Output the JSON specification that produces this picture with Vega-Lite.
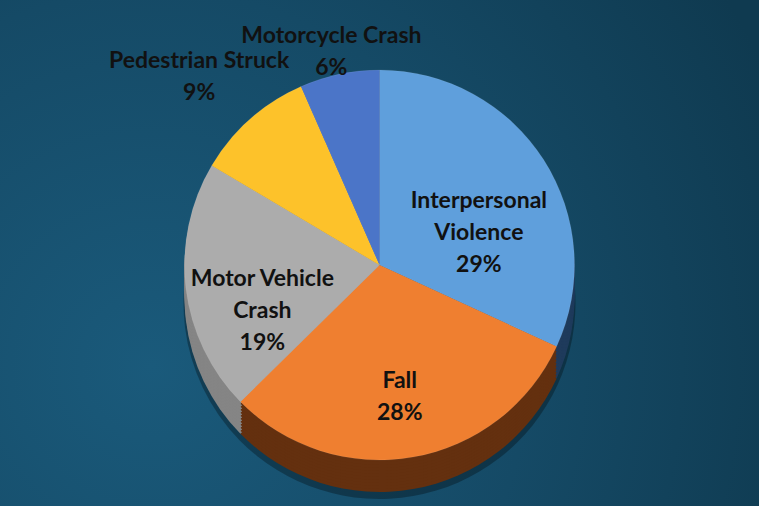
{
  "$schema": "https://vega.github.io/schema/vega-lite/v6.json",
  "width": 759,
  "height": 506,
  "autosize": {"type": "none"},
  "padding": 0,
  "background": "#133f56",
  "view": {
    "stroke": null,
    "fill": {"gradient": "radial", "x1": 0.2, "y1": 0.65, "r1": 0, "x2": 0.2, "y2": 0.65, "r2": 0.9,
      "stops": [{"offset": 0, "color": "#1a5a7b"}, {"offset": 0.55, "color": "#154a66"}, {"offset": 1, "color": "#0f3a50"}]}
  },
  "config": {"legend": {"disable": true}},
  "data": {
    "values": [
      {"cat": "Interpersonal Violence", "value": 29, "ord": 1, "label": "Interpersonal\nViolence\n29%"},
      {"cat": "Fall", "value": 28, "ord": 2, "label": "Fall\n28%"},
      {"cat": "Motor Vehicle Crash", "value": 19, "ord": 3, "label": "Motor Vehicle\nCrash\n19%"},
      {"cat": "Pedestrian Struck", "value": 9, "ord": 4, "label": "Pedestrian Struck\n9%"},
      {"cat": "Motorcycle Crash", "value": 6, "ord": 5, "label": "Motorcycle Crash\n6%"}
    ]
  },
  "encoding": {
    "theta": {"field": "value", "type": "quantitative", "stack": true},
    "order": {"field": "ord", "type": "quantitative"}
  },
  "layer": [
    {"mark": {"type": "arc", "radius": 196, "yOffset": 50, "fill": "#000000", "opacity": 0.3}},
    {"mark": {"type": "arc", "radius": 195, "yOffset": 44},
      "encoding": {"color": {"field": "cat", "type": "nominal", "scale": {"domain": ["Interpersonal Violence", "Fall", "Motor Vehicle Crash", "Pedestrian Struck", "Motorcycle Crash"], "range": ["#1f3b5c", "#64300f", "#858585", "#a07a00", "#2d4e8a"]}}}},
    {"mark": {"type": "arc", "radius": 195, "yOffset": 41},
      "encoding": {"color": {"field": "cat", "type": "nominal", "scale": {"domain": ["Interpersonal Violence", "Fall", "Motor Vehicle Crash", "Pedestrian Struck", "Motorcycle Crash"], "range": ["#1f3b5c", "#64300f", "#858585", "#a07a00", "#2d4e8a"]}}}},
    {"mark": {"type": "arc", "radius": 195, "yOffset": 38},
      "encoding": {"color": {"field": "cat", "type": "nominal", "scale": {"domain": ["Interpersonal Violence", "Fall", "Motor Vehicle Crash", "Pedestrian Struck", "Motorcycle Crash"], "range": ["#1f3b5c", "#64300f", "#858585", "#a07a00", "#2d4e8a"]}}}},
    {"mark": {"type": "arc", "radius": 195, "yOffset": 35},
      "encoding": {"color": {"field": "cat", "type": "nominal", "scale": {"domain": ["Interpersonal Violence", "Fall", "Motor Vehicle Crash", "Pedestrian Struck", "Motorcycle Crash"], "range": ["#1f3b5c", "#64300f", "#858585", "#a07a00", "#2d4e8a"]}}}},
    {"mark": {"type": "arc", "radius": 195, "yOffset": 32},
      "encoding": {"color": {"field": "cat", "type": "nominal", "scale": {"domain": ["Interpersonal Violence", "Fall", "Motor Vehicle Crash", "Pedestrian Struck", "Motorcycle Crash"], "range": ["#1f3b5c", "#64300f", "#858585", "#a07a00", "#2d4e8a"]}}}},
    {"mark": {"type": "arc", "radius": 195, "yOffset": 29},
      "encoding": {"color": {"field": "cat", "type": "nominal", "scale": {"domain": ["Interpersonal Violence", "Fall", "Motor Vehicle Crash", "Pedestrian Struck", "Motorcycle Crash"], "range": ["#1f3b5c", "#64300f", "#858585", "#a07a00", "#2d4e8a"]}}}},
    {"mark": {"type": "arc", "radius": 195, "yOffset": 26},
      "encoding": {"color": {"field": "cat", "type": "nominal", "scale": {"domain": ["Interpersonal Violence", "Fall", "Motor Vehicle Crash", "Pedestrian Struck", "Motorcycle Crash"], "range": ["#1f3b5c", "#64300f", "#858585", "#a07a00", "#2d4e8a"]}}}},
    {"mark": {"type": "arc", "radius": 195, "yOffset": 23},
      "encoding": {"color": {"field": "cat", "type": "nominal", "scale": {"domain": ["Interpersonal Violence", "Fall", "Motor Vehicle Crash", "Pedestrian Struck", "Motorcycle Crash"], "range": ["#1f3b5c", "#64300f", "#858585", "#a07a00", "#2d4e8a"]}}}},
    {"mark": {"type": "arc", "radius": 195, "yOffset": 20},
      "encoding": {"color": {"field": "cat", "type": "nominal", "scale": {"domain": ["Interpersonal Violence", "Fall", "Motor Vehicle Crash", "Pedestrian Struck", "Motorcycle Crash"], "range": ["#1f3b5c", "#64300f", "#858585", "#a07a00", "#2d4e8a"]}}}},
    {"mark": {"type": "arc", "radius": 195, "yOffset": 17},
      "encoding": {"color": {"field": "cat", "type": "nominal", "scale": {"domain": ["Interpersonal Violence", "Fall", "Motor Vehicle Crash", "Pedestrian Struck", "Motorcycle Crash"], "range": ["#1f3b5c", "#64300f", "#858585", "#a07a00", "#2d4e8a"]}}}},
    {"mark": {"type": "arc", "radius": 195, "yOffset": 14},
      "encoding": {"color": {"field": "cat", "type": "nominal", "scale": {"domain": ["Interpersonal Violence", "Fall", "Motor Vehicle Crash", "Pedestrian Struck", "Motorcycle Crash"], "range": ["#1f3b5c", "#64300f", "#858585", "#a07a00", "#2d4e8a"]}}}},
    {"mark": {"type": "arc", "radius": 195, "yOffset": 12, "stroke": "#ffffff", "strokeOpacity": 0.15, "strokeWidth": 0.5},
      "encoding": {"color": {"field": "cat", "type": "nominal", "scale": {"domain": ["Interpersonal Violence", "Fall", "Motor Vehicle Crash", "Pedestrian Struck", "Motorcycle Crash"], "range": ["#5f9fdc", "#ef7f30", "#acacac", "#fdc22a", "#4b75c8"]}}}},
    {"mark": {"type": "text", "radius": 118, "yOffset": 12, "font": "Lato", "fontWeight": "bold", "fontSize": 23, "lineBreak": "\n", "lineHeight": 32, "color": "#111111", "baseline": "middle", "align": "center"},
      "encoding": {"text": {"condition": {"test": "datum.value >= 15", "field": "label"}, "value": ""}}},
    {"mark": {"type": "text", "radius": 272, "yOffset": 12, "font": "Lato", "fontWeight": "bold", "fontSize": 23, "lineBreak": "\n", "lineHeight": 32, "color": "#111111", "baseline": "middle", "align": "center"},
      "encoding": {"text": {"condition": {"test": "datum.value >= 7 && datum.value < 15", "field": "label"}, "value": ""}}},
    {"mark": {"type": "text", "radius": 234, "yOffset": 12, "font": "Lato", "fontWeight": "bold", "fontSize": 23, "lineBreak": "\n", "lineHeight": 32, "color": "#111111", "baseline": "middle", "align": "center"},
      "encoding": {"text": {"condition": {"test": "datum.value < 7", "field": "label"}, "value": ""}}}
  ],
  "resolve": {"scale": {"color": "independent"}}
}
